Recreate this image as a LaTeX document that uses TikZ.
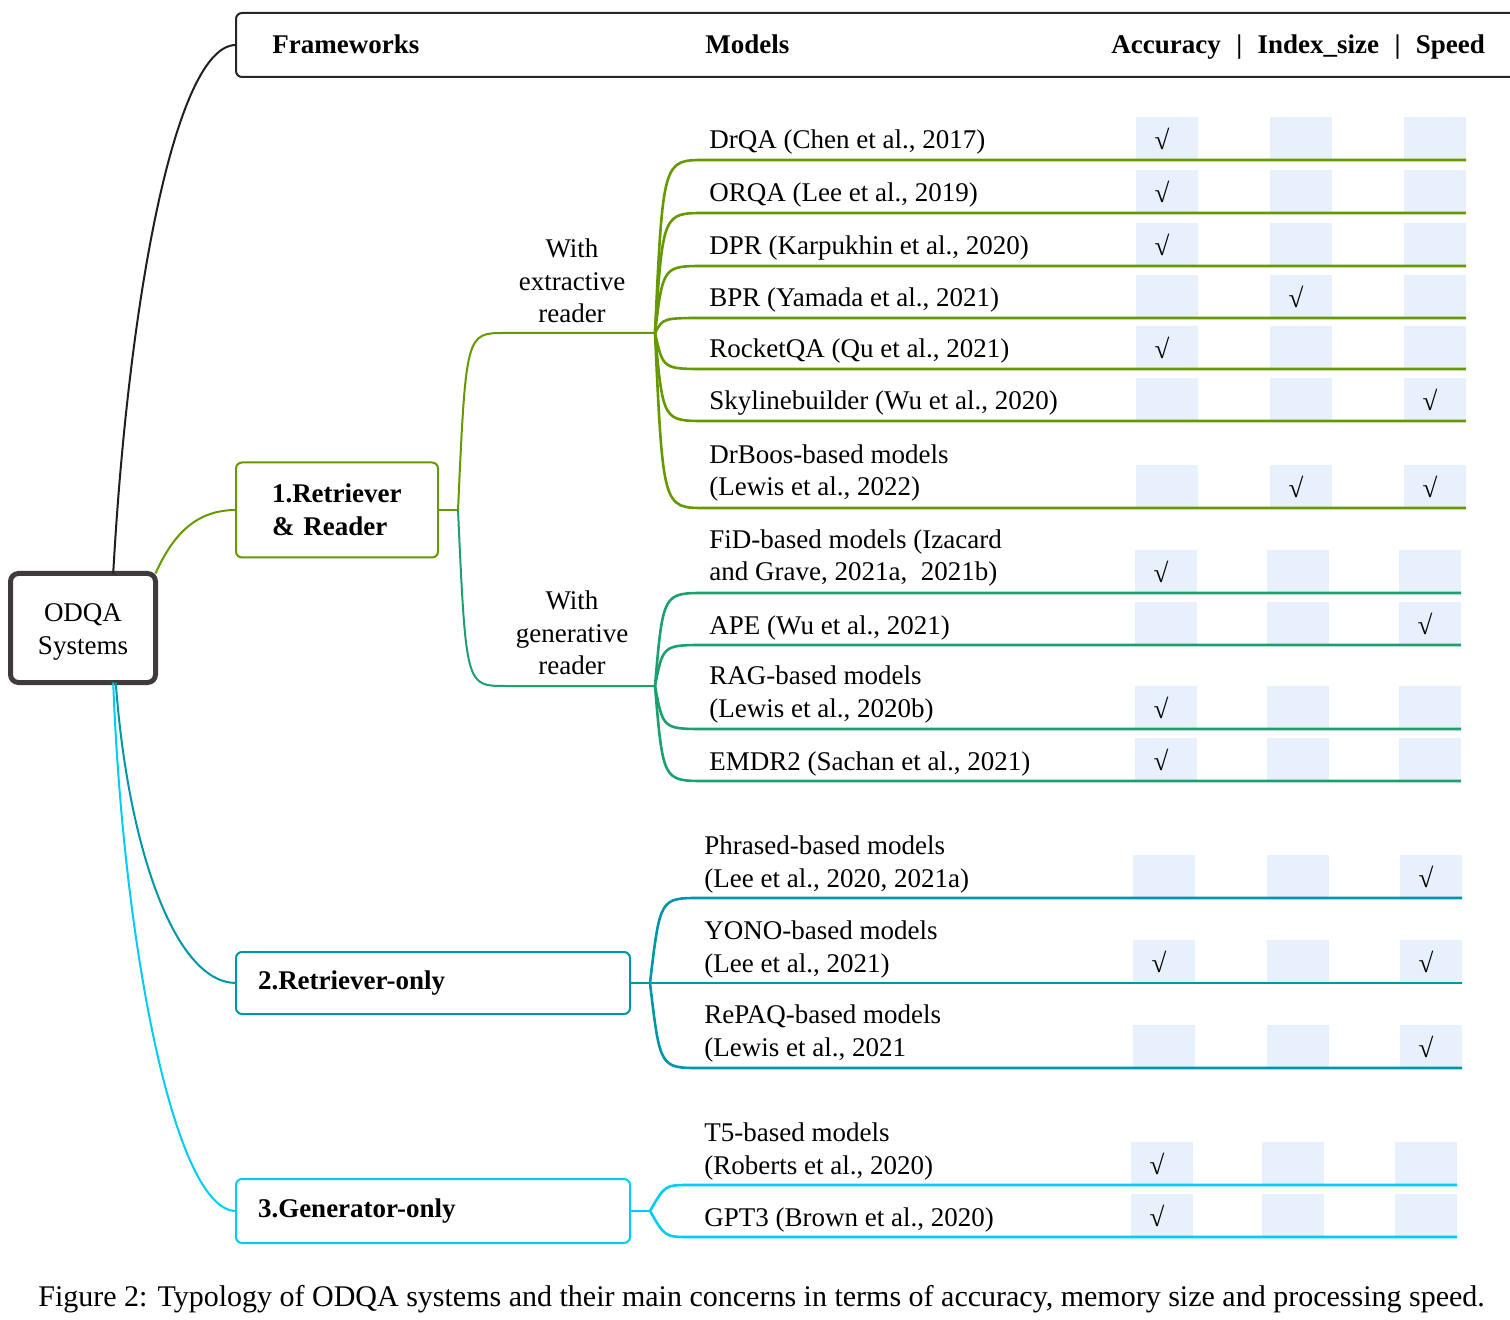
\documentclass[tikz,border=0pt]{standalone}
\usepackage{fontspec}
\setmainfont{Liberation Serif}
\definecolor{olv}{RGB}{102,153,0}
\definecolor{gen}{RGB}{30,160,110}
\definecolor{tel}{RGB}{0,150,170}
\definecolor{cyn}{RGB}{0,204,245}
\definecolor{cellbg}{RGB}{232,241,251}
\definecolor{dkgray}{RGB}{64,58,58}
\newcommand{\txt}{\fontsize{13.5pt}{16.25pt}\selectfont}
\newcommand{\ck}{\hspace*{-5pt}√}
\tikzset{%
    cell/.style={inner sep=0pt,outer sep=0pt,minimum width=31pt,minimum height=21.5pt,fill=cellbg},
    mdl/.style={anchor=base west,inner sep=0pt,align=left},
    grp/.style={draw,line width=1pt,rounded corners=3pt,outer sep=0pt,align=left,font=\txt\bfseries}
}

\begin{document}
\begin{tikzpicture}[
                x=0.5pt,y=-0.5pt,
                font=\txt,
                br/.style={line width=1.3pt},
                hd/.style={anchor=base west,inner sep=0pt,font=\txt\bfseries}
            ]
            \useasboundingbox (0,0) rectangle (1510,1320);

            % header
            \node[draw=black!85,line width=1pt,rounded corners=3pt,outer sep=0pt,anchor=north west,
                minimum width=647pt,minimum height=32pt] (head) at (236,13){};
            \node[hd] (frame) at (272,54){Frameworks};
            \node[hd] (models) at (705,54){Models};
            \node[hd] (concern) at (1111,54){Accuracy\hspace{7.7pt}|\hspace{7.7pt}Index\_size\hspace{7.7pt}|\hspace{7.7pt}Speed};

            % root and frameworks
            \node[draw=dkgray,line width=2.5pt,rounded corners=4pt,outer sep=0pt,align=center,
                minimum width=72.5pt,minimum height=54.5pt] (odqa) at (83,628){};
            \node[align=center,inner sep=0pt] (odqatxt) at (83,632){ODQA\\Systems};
            \node[grp,draw=olv,anchor=west,minimum width=101pt,minimum height=47.5pt,
                inner xsep=18pt,text width=65pt] (rr) at (236,510){1.Retriever\\\& Reader};
            \node[grp,draw=tel,anchor=west,minimum width=197pt,minimum height=31pt,
                inner xsep=11pt,text width=175pt] (ro) at (236,983){2.Retriever-only};
            \node[grp,draw=cyn,anchor=west,minimum width=197pt,minimum height=32pt,
                inner xsep=11pt,text width=175pt] (go) at (236,1211){3.Generator-only};

            \coordinate (rrhub) at (458,510);
            \coordinate (xhub) at (655,333);
            \coordinate (ghub) at (655,686);
            \coordinate (rohub) at (650,983);
            \coordinate (gohub) at (650,1211);

            \node[align=center,inner sep=0pt] (ext) at (572,281){With\\extractive\\reader};
            \node[align=center,inner sep=0pt] (gener) at (572,633){With\\generative\\reader};

            % models
            \node[mdl] (drqa) at (709,149){DrQA (Chen et al., 2017)};
            \node[mdl] (orqa) at (709,202){ORQA (Lee et al., 2019)};
            \node[mdl] (dpr) at (709,255){DPR (Karpukhin et al., 2020)};
            \node[mdl] (bpr) at (709,307){BPR (Yamada et al., 2021)};
            \node[mdl] (rocket) at (709,358){RocketQA (Qu et al., 2021)};
            \node[mdl] (skyline) at (709,410){Skylinebuilder (Wu et al., 2020)};
            \node[mdl] (drboos) at (709,496){DrBoos-based models\\(Lewis et al., 2022)};
            \node[mdl] (fid) at (709,581){FiD-based models (Izacard\\and Grave, 2021a,\ \ 2021b)};
            \node[mdl] (ape) at (709,634){APE (Wu et al., 2021)};
            \node[mdl] (rag) at (709,717){RAG-based models\\(Lewis et al., 2020b)};
            \node[mdl] (emdr) at (709,770){EMDR2 (Sachan et al., 2021)};
            \node[mdl] (phrased) at (704,887){Phrased-based models\\(Lee et al., 2020, 2021a)};
            \node[mdl] (yono) at (704,972){YONO-based models\\(Lee et al., 2021)};
            \node[mdl] (repaq) at (704,1056){RePAQ-based models\\(Lewis et al., 2021};
            \node[mdl] (tfive) at (704,1174){T5-based models\\(Roberts et al., 2020)};
            \node[mdl] (gpt) at (704,1226){GPT3 (Brown et al., 2020)};

            % concern cells
            \node[cell] (drqa-a) at (1167,138.5){\ck};
            \node[cell] (drqa-i) at (1301,138.5){};
            \node[cell] (drqa-s) at (1435,138.5){};
            \node[cell] (orqa-a) at (1167,191.5){\ck};
            \node[cell] (orqa-i) at (1301,191.5){};
            \node[cell] (orqa-s) at (1435,191.5){};
            \node[cell] (dpr-a) at (1167,244.5){\ck};
            \node[cell] (dpr-i) at (1301,244.5){};
            \node[cell] (dpr-s) at (1435,244.5){};
            \node[cell] (bpr-a) at (1167,296.5){};
            \node[cell] (bpr-i) at (1301,296.5){\ck};
            \node[cell] (bpr-s) at (1435,296.5){};
            \node[cell] (rocket-a) at (1167,347.5){\ck};
            \node[cell] (rocket-i) at (1301,347.5){};
            \node[cell] (rocket-s) at (1435,347.5){};
            \node[cell] (skyline-a) at (1167,399.5){};
            \node[cell] (skyline-i) at (1301,399.5){};
            \node[cell] (skyline-s) at (1435,399.5){\ck};
            \node[cell] (drboos-a) at (1167,486.5){};
            \node[cell] (drboos-i) at (1301,486.5){\ck};
            \node[cell] (drboos-s) at (1435,486.5){\ck};
            \node[cell] (fid-a) at (1166,571.5){\ck};
            \node[cell] (fid-i) at (1298,571.5){};
            \node[cell] (fid-s) at (1430,571.5){};
            \node[cell] (ape-a) at (1166,623.5){};
            \node[cell] (ape-i) at (1298,623.5){};
            \node[cell] (ape-s) at (1430,623.5){\ck};
            \node[cell] (rag-a) at (1166,707.5){\ck};
            \node[cell] (rag-i) at (1298,707.5){};
            \node[cell] (rag-s) at (1430,707.5){};
            \node[cell] (emdr-a) at (1166,759.5){\ck};
            \node[cell] (emdr-i) at (1298,759.5){};
            \node[cell] (emdr-s) at (1430,759.5){};
            \node[cell] (phrased-a) at (1164,876.5){};
            \node[cell] (phrased-i) at (1298,876.5){};
            \node[cell] (phrased-s) at (1431,876.5){\ck};
            \node[cell] (yono-a) at (1164,961.5){\ck};
            \node[cell] (yono-i) at (1298,961.5){};
            \node[cell] (yono-s) at (1431,961.5){\ck};
            \node[cell] (repaq-a) at (1164,1046.5){};
            \node[cell] (repaq-i) at (1298,1046.5){};
            \node[cell] (repaq-s) at (1431,1046.5){\ck};
            \node[cell] (tfive-a) at (1162,1163.5){\ck};
            \node[cell] (tfive-i) at (1293,1163.5){};
            \node[cell] (tfive-s) at (1426,1163.5){};
            \node[cell] (gpt-a) at (1162,1215.5){\ck};
            \node[cell] (gpt-i) at (1293,1215.5){};
            \node[cell] (gpt-s) at (1426,1215.5){};

            % connectors
            \draw[black!88,line width=1pt] (odqa.61) .. controls +(15,-271) and +(-61,0) .. (head.west);
            \draw[olv,line width=1pt] (odqa.north east) .. controls +(20,-45) and +(-35,0) .. (rr.west);
            \draw[tel,line width=1pt] (odqa.-59) .. controls +(12,165) and +(-61,0) .. (ro.west);
            \draw[cyn,line width=1pt] (odqa.-61) .. controls +(10,265) and +(-61,0) .. (go.west);

            \draw[olv,line width=1pt] (rr.east) -- (rrhub);
            \draw[olv,line width=1pt] (rrhub) .. controls (466,333) .. (505,333) -- (xhub);
            \draw[gen,line width=1pt] (rrhub) .. controls (466,686) .. (505,686) -- (ghub);
            \draw[tel,line width=1pt] (ro.east) -- (rohub);
            \draw[cyn,line width=1pt] (go.east) -- (gohub);

            \draw[br,olv] (xhub) .. controls (663,160) .. (705,160) -- (drqa-s.south east);
            \draw[br,olv] (xhub) .. controls (663,213) .. (705,213) -- (orqa-s.south east);
            \draw[br,olv] (xhub) .. controls (663,266) .. (705,266) -- (dpr-s.south east);
            \draw[br,olv] (xhub) .. controls (663,318) .. (705,318) -- (bpr-s.south east);
            \draw[br,olv] (xhub) .. controls (663,369) .. (705,369) -- (rocket-s.south east);
            \draw[br,olv] (xhub) .. controls (663,421) .. (705,421) -- (skyline-s.south east);
            \draw[br,olv] (xhub) .. controls (663,508) .. (705,508) -- (drboos-s.south east);
            \draw[br,gen] (ghub) .. controls (663,593) .. (705,593) -- (fid-s.south east);
            \draw[br,gen] (ghub) .. controls (663,645) .. (705,645) -- (ape-s.south east);
            \draw[br,gen] (ghub) .. controls (663,729) .. (705,729) -- (rag-s.south east);
            \draw[br,gen] (ghub) .. controls (663,781) .. (705,781) -- (emdr-s.south east);
            \draw[br,tel] (rohub) .. controls (660,898) .. (700,898) -- (phrased-s.south east);
            \draw[br,tel] (rohub) -- (yono-s.south east);
            \draw[br,tel] (rohub) .. controls (660,1068) .. (700,1068) -- (repaq-s.south east);
            \draw[br,cyn] (gohub) .. controls (665,1185) .. (690,1185) -- (tfive-s.south east);
            \draw[br,cyn] (gohub) .. controls (665,1237) .. (690,1237) -- (gpt-s.south east);

            \node[anchor=base west,inner sep=0pt,font=\fontsize{15pt}{18pt}\selectfont] (caption) at (38,1306)
                {Figure 2: Typology of ODQA systems and their main concerns in terms of accuracy, memory size and processing speed.};
        \end{tikzpicture}
\end{document}
